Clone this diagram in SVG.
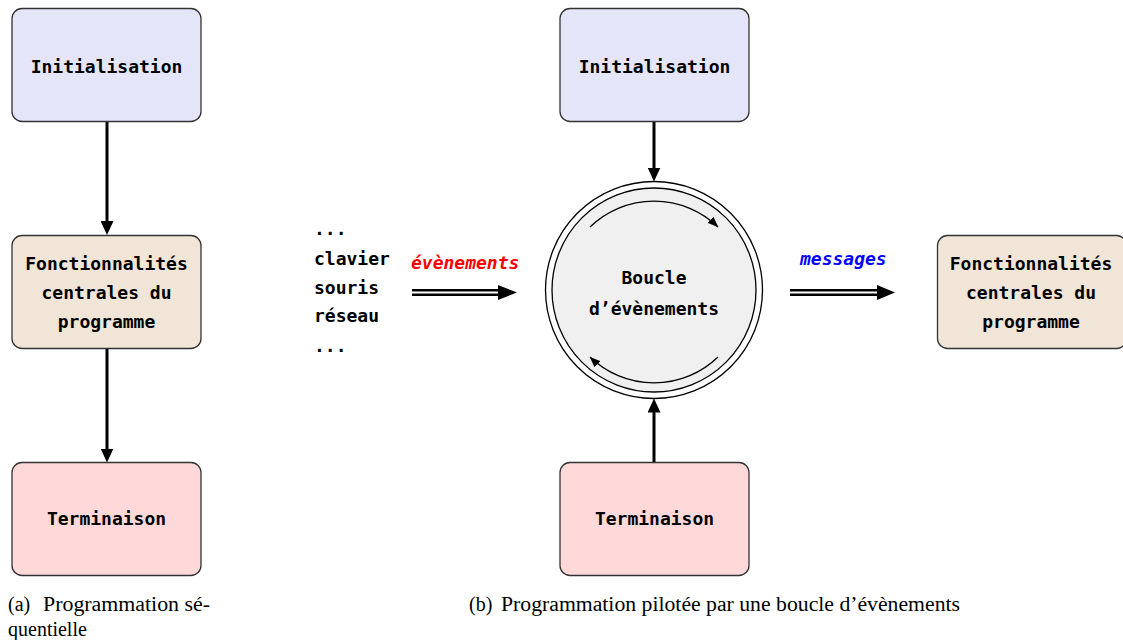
<svg xmlns="http://www.w3.org/2000/svg" width="1123" height="640" viewBox="0 0 1123 640">
<style>
  .box { stroke: #333; stroke-width: 1.3; }
  .init { fill: #e5e5fa; }
  .func { fill: #f1e5d8; }
  .term { fill: #ffd8da; }
  .t { font-family: "DejaVu Sans Mono", monospace; font-weight: bold; font-size: 18px; fill: #000; text-anchor: middle; }
  .lst { font-family: "DejaVu Sans Mono", monospace; font-weight: bold; font-size: 18px; fill: #000; }
  .lab { font-family: "DejaVu Sans Mono", monospace; font-weight: bold; font-style: italic; font-size: 18px; }
  .cap { font-family: "Liberation Serif", serif; font-size: 20px; fill: #000; }
  .arr { stroke: #000; stroke-width: 3; fill: none; }
  .arc { stroke: #000; stroke-width: 1.3; fill: none; }
</style>
<defs>
  <marker id="ah" markerUnits="userSpaceOnUse" markerWidth="14" markerHeight="13" refX="6" refY="6.5" orient="auto">
    <path d="M0,0 L14,6.5 L0,13 z" fill="#000"/>
  </marker>
  <marker id="sh" markerUnits="userSpaceOnUse" markerWidth="12" markerHeight="9" refX="10.5" refY="4.25" orient="auto">
    <path d="M0,0 L11,4.25 L0,8.5 z" fill="#000"/>
  </marker>
</defs>

<g id="connectors">
  <line class="arr" x1="107" y1="122" x2="107" y2="227" marker-end="url(#ah)"/>
  <line class="arr" x1="107" y1="349" x2="107" y2="454.5" marker-end="url(#ah)"/>
  <line class="arr" x1="654" y1="122" x2="654" y2="173.5" marker-end="url(#ah)"/>
  <line class="arr" x1="654" y1="462.5" x2="654" y2="406.5" marker-end="url(#ah)"/>
  <g id="evt-arrow">
    <line x1="412" y1="292.5" x2="500" y2="292.5" stroke="#000" stroke-width="7"/>
    <line x1="412" y1="292.5" x2="499" y2="292.5" stroke="#fff" stroke-width="2.2"/>
    <polygon points="498,285 517,292.5 498,300" fill="#000"/>
  </g>
  <g id="msg-arrow">
    <line x1="790" y1="292.5" x2="879" y2="292.5" stroke="#000" stroke-width="7"/>
    <line x1="790" y1="292.5" x2="878" y2="292.5" stroke="#fff" stroke-width="2.2"/>
    <polygon points="877,285 895,292.5 877,300" fill="#000"/>
  </g>
</g>

<g id="seq-init">
  <rect class="box init" x="12" y="8.5" width="189" height="113" rx="10"/>
  <text class="t" x="106.5" y="72.5">Initialisation</text>
</g>
<g id="seq-func">
  <rect class="box func" x="12" y="235.5" width="189" height="113" rx="10"/>
  <text class="t" x="106.5" y="269.5">Fonctionnalités</text>
  <text class="t" x="106.5" y="298.5">centrales du</text>
  <text class="t" x="106.5" y="327.5">programme</text>
</g>
<g id="seq-term">
  <rect class="box term" x="12" y="462.5" width="189" height="113" rx="10"/>
  <text class="t" x="106.5" y="525">Terminaison</text>
</g>

<g id="sources">
  <text class="lst" x="314" y="235">...</text>
  <text class="lst" x="314" y="265">clavier</text>
  <text class="lst" x="314" y="294">souris</text>
  <text class="lst" x="314" y="322">réseau</text>
  <text class="lst" x="314" y="352">...</text>
</g>
<text class="lab" x="411" y="269" fill="#ff0000">évènements</text>
<text class="lab" x="800" y="265" fill="#0000ff">messages</text>

<g id="evt-init">
  <rect class="box init" x="560" y="8.5" width="189" height="113" rx="10"/>
  <text class="t" x="654.5" y="72.5">Initialisation</text>
</g>
<g id="loop">
  <circle cx="654" cy="290" r="108.5" fill="#fff" stroke="#000" stroke-width="1.3"/>
  <circle cx="654" cy="290" r="102" fill="#f0f0f0" stroke="#000" stroke-width="1.3"/>
  <path class="arc" d="M590,227 A92,92 0 0,1 718,227" marker-end="url(#sh)"/>
  <path class="arc" d="M718,357 A92,92 0 0,1 590,357" marker-end="url(#sh)"/>
  <text class="t" x="654" y="284">Boucle</text>
  <text class="t" x="654" y="315">d’évènements</text>
</g>
<g id="evt-term">
  <rect class="box term" x="560" y="462.5" width="189" height="113" rx="10"/>
  <text class="t" x="654.5" y="525">Terminaison</text>
</g>
<g id="evt-func">
  <rect class="box func" x="937.5" y="235.5" width="189" height="113" rx="10"/>
  <text class="t" x="1031" y="269.5">Fonctionnalités</text>
  <text class="t" x="1031" y="298.5">centrales du</text>
  <text class="t" x="1031" y="327.5">programme</text>
</g>

<g id="captions">
  <text class="cap" x="8" y="611">(a)</text>
  <text class="cap" x="43" y="611" textLength="167" lengthAdjust="spacingAndGlyphs">Programmation sé-</text>
  <text class="cap" x="8" y="636">quentielle</text>
  <text class="cap" x="469" y="611">(b)</text>
  <text class="cap" x="501" y="611" textLength="459" lengthAdjust="spacingAndGlyphs">Programmation pilotée par une boucle d’évènements</text>
</g>
</svg>
